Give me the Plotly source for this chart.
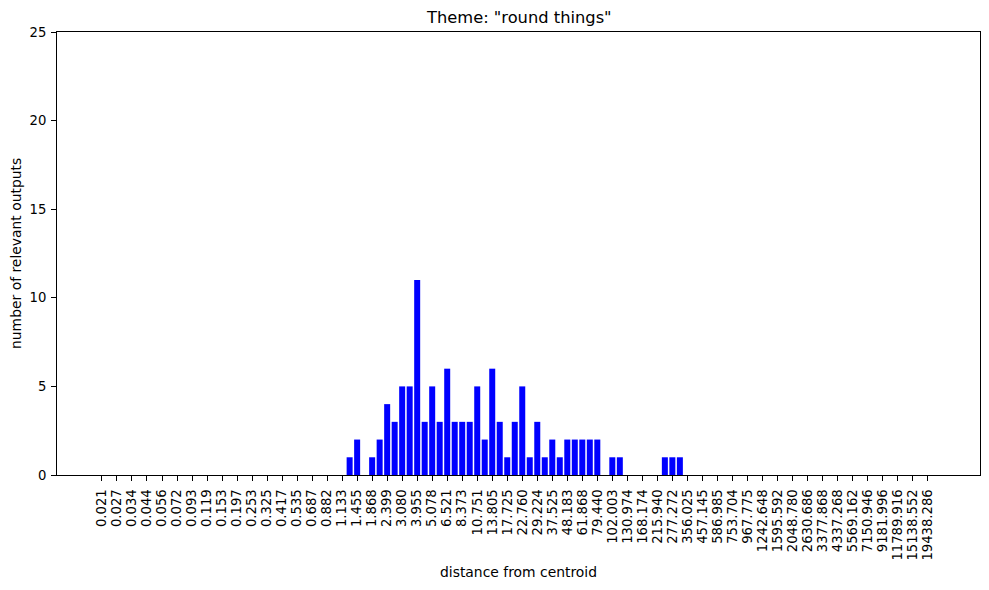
import plotly.graph_objects as go

# tick labels (every other bin)
tick_labels = ["0.021", "0.027", "0.034", "0.044", "0.056", "0.072", "0.093", "0.119",
               "0.153", "0.197", "0.253", "0.325", "0.417", "0.535", "0.687", "0.882",
               "1.133", "1.455", "1.868", "2.399", "3.080", "3.955", "5.078", "6.521",
               "8.373", "10.751", "13.805", "17.725", "22.760", "29.224", "37.525", "48.183",
               "61.868", "79.440", "102.003", "130.974", "168.174", "215.940", "277.272", "356.025",
               "457.145", "586.985", "753.704", "967.775", "1242.648", "1595.592", "2048.780", "2630.686",
               "3377.868", "4337.268", "5569.162", "7150.946", "9181.996", "11789.916", "15138.552", "19438.286"]

n_bins = 112
# counts per bin (non-zero bins listed by bin index)
nonzero_counts = {33: 1, 34: 2, 36: 1, 37: 2, 38: 4, 39: 3, 40: 5, 41: 5, 42: 11, 43: 3,
                  44: 5, 45: 3, 46: 6, 47: 3, 48: 3, 49: 3, 50: 5, 51: 2, 52: 6, 53: 3,
                  54: 1, 55: 3, 56: 5, 57: 1, 58: 3, 59: 1, 60: 2, 61: 1, 62: 2, 63: 2,
                  64: 2, 65: 2, 66: 2, 68: 1, 69: 1, 75: 1, 76: 1, 77: 1}
counts = [nonzero_counts.get(i, 0) for i in range(n_bins)]
bin_index = list(range(n_bins))
tick_positions = bin_index[::2]

font_family = "DejaVu Sans"

fig = go.Figure(go.Bar(x=bin_index, y=counts, width=0.8, marker=dict(color="#0000ff", line=dict(width=0))))

axis_common = dict(showline=True, linecolor="black", linewidth=1, mirror=True,
                   ticks="outside", ticklen=5, tickwidth=1, tickcolor="black",
                   showgrid=False, zeroline=False, automargin=False,
                   tickfont=dict(family=font_family, size=13.2, color="black"))

span = (n_bins - 1) + 0.8
pad = 0.05 * span
fig.update_layout(
    width=989, height=590,
    margin=dict(l=57, r=9, t=32, b=115),
    plot_bgcolor="white", paper_bgcolor="white",
    showlegend=False,
    xaxis=dict(range=[-0.4 - pad, n_bins - 1 + 0.4 + pad], tickmode="array",
               tickvals=tick_positions, ticktext=tick_labels, tickangle=-90,
               ticklabelstandoff=3, **axis_common),
    yaxis=dict(range=[0, 25], tickmode="array", tickvals=[0, 5, 10, 15, 20, 25],
               ticklabelstandoff=2, **axis_common),
    annotations=[
        dict(text='Theme: "round things"', xref="paper", yref="paper", x=0.5, y=1,
             yshift=15, xanchor="center", yanchor="middle", showarrow=False,
             font=dict(family=font_family, size=16.3, color="black")),
        dict(text="distance from centroid", xref="paper", yref="paper", x=0.5, y=0,
             yshift=-97, xanchor="center", yanchor="middle", showarrow=False,
             font=dict(family=font_family, size=13.9, color="black")),
        dict(text="number of relevant outputs", xref="paper", yref="paper", x=0, y=0.5,
             xshift=-41.5, xanchor="center", yanchor="middle", showarrow=False, textangle=-90,
             font=dict(family=font_family, size=13.9, color="black")),
    ],
)

fig.write_html("out.html", config={"displayModeBar": False},
               post_script="document.body.style.margin='0px';")
